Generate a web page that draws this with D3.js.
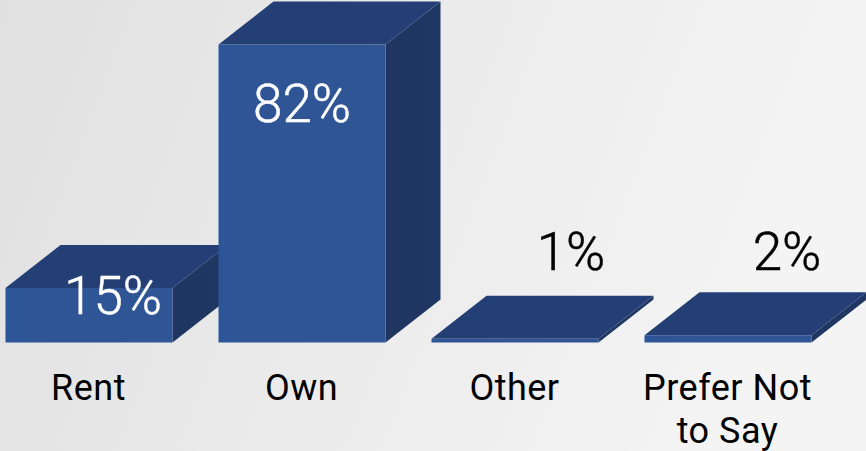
<!DOCTYPE html>
<html><head><meta charset="utf-8">
<script src="https://cdn.jsdelivr.net/npm/d3@7/dist/d3.min.js"></script>
<style>html,body{margin:0;padding:0;background:#eee;overflow:hidden}svg{display:block}text{font-family:Roboto,sans-serif}</style>
</head><body><svg id="c" width="866" height="451"></svg>
<script>
const categories = ["Rent", "Own", "Other", "Prefer Not to Say"];
const values = [15, 82, 1, 2];
const valueLabels = ["15%", "82%", "1%", "2%"];

const W = 866, H = 451, baseY = 342.5, depthX = 55, depthY = 43;
const labelDx = [24, 0, 56, 59];
const labelY = [314, 122, 270, 270];
const labelFill = ["#fff", "#fff", "#000", "#000"];

const svg = d3.select("#c");
const defs = svg.append("defs");
function grad(id, stops, x2, y2) {
  const g = defs.append("linearGradient").attr("id", id).attr("gradientUnits", "objectBoundingBox")
    .attr("x1", 0).attr("y1", 0).attr("x2", x2).attr("y2", y2);
  stops.forEach(s => g.append("stop").attr("offset", s[0]).attr("stop-color", s[1]));
}
grad("bg", [[0, "#e0e0e0"], [0.5, "#ebebeb"], [1, "#f4f4f4"]], 1, 0.2);
grad("front", [[0, "#2c5598"], [0.12, "#2f5596"], [1, "#305595"]], 1, 0);
grad("top", [[0, "#243f74"], [1, "#253f76"]], 1, 0);
grad("side", [[0, "#203661"], [1, "#1f3763"]], 1, 0);

svg.append("rect").attr("width", W).attr("height", H).attr("fill", "url(#bg)");

const x = d3.scaleBand().domain(categories).range([5.5, 811.5]).paddingInner(46 / 213).paddingOuter(0);
const y = d3.scaleLinear().domain([0, 82]).range([baseY, 44.5]);
const line = d3.line();

const data = categories.map((c, i) => ({c, v: values[i], t: valueLabels[i], i}));
const bars = svg.selectAll("g.bar").data(data).join("g").attr("class", "bar");

bars.append("path").attr("fill", "url(#side)").attr("d", d => {
  const r = x(d.c) + x.bandwidth();
  return line([[r, baseY], [r + depthX, baseY - depthY], [r + depthX, y(d.v) - depthY], [r, y(d.v)]]) + "Z";
});
bars.append("path").attr("fill", "url(#top)").attr("d", d => {
  const l = x(d.c), r = l + x.bandwidth(), t = y(d.v);
  return line([[l, t], [l + depthX, t - depthY], [r + depthX, t - depthY], [r, t]]) + "Z";
});
bars.append("rect").attr("fill", "url(#front)")
  .attr("x", d => x(d.c)).attr("width", x.bandwidth())
  .attr("y", d => y(d.v)).attr("height", d => baseY - y(d.v));

svg.selectAll("text.val").data(data).join("text").attr("class", "val")
  .attr("x", d => x(d.c) + x.bandwidth() / 2 + labelDx[d.i])
  .attr("y", d => labelY[d.i])
  .attr("text-anchor", "middle").attr("font-size", 53).attr("font-weight", 300)
  .attr("fill", d => labelFill[d.i]).attr("stroke", d => labelFill[d.i]).attr("stroke-width", 0.5)
  .text(d => d.t);

const wrapped = {"Prefer Not to Say": ["Prefer Not", "to Say"]};
svg.selectAll("text.cat").data(data).join("text").attr("class", "cat")
  .attr("text-anchor", "middle").attr("font-size", 36).attr("fill", "#000")
  .attr("letter-spacing", 0.5).attr("y", 400)
  .each(function (d) {
    const lines = wrapped[d.c] || [d.c];
    d3.select(this).selectAll("tspan").data(lines).join("tspan")
      .attr("x", x(d.c) + x.bandwidth() / 2 - 0.5)
      .attr("dy", (l, i) => i ? 43 : 0).text(l => l);
  });
</script></body></html>
